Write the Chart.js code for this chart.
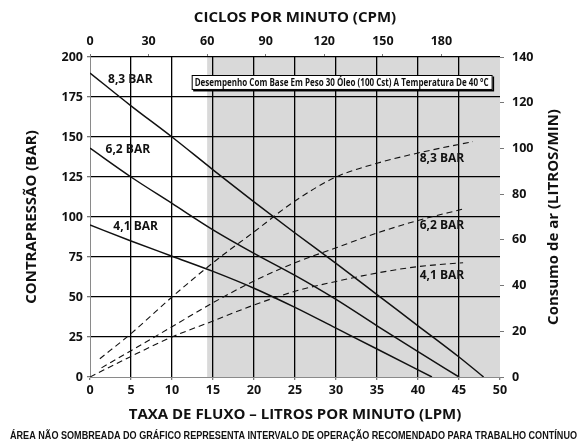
<!DOCTYPE html>
<html>
<head>
<meta charset="utf-8">
<script src="https://cdn.jsdelivr.net/npm/chart.js@4/dist/chart.umd.min.js"></script>
<style>
html,body{margin:0;padding:0;background:#fff}
</style>
</head>
<body>
<canvas id="myChart" width="582" height="447"></canvas>
<script>
// contrapressao (BAR) vs vazao (LPM)
const lpm83 = [0, 5, 10, 15, 20, 25, 30, 35, 40, 45, 48]
const bar83 = [190, 169.5, 150, 129.5, 109.5, 90, 71, 51.5, 32, 12.5, 0]
const lpm62 = [0, 5, 10, 15, 20, 25, 30, 35, 40, 45]
const bar62 = [143, 125, 108.5, 92, 77.3, 63.5, 48.5, 32, 15.8, 0]
const lpm41 = [0, 5, 10, 15, 20, 25, 30, 35, 41.7]
const bar41 = [95, 85, 75.5, 66, 55.5, 43.5, 30.5, 17.5, 0]

// consumo de ar (LITROS/MIN) vs vazao (LPM)
const airLpm83 = [1.2, 5, 10, 15, 20, 25, 30, 35, 40, 46.7]
const air83 = [8, 19, 35, 50, 63.5, 77, 87.5, 93.5, 98, 103]
const airLpm62 = [1.4, 5, 10, 15, 20, 25, 30, 35, 40, 45.5]
const air62 = [4, 11.5, 22, 32.5, 42, 50, 56.5, 63, 68.5, 73.5]
const airLpm41 = [0, 5, 10, 15, 20, 25, 30, 35, 40, 45.5]
const air41 = [0, 9, 17.5, 24.5, 31.5, 37.5, 41.8, 45.5, 48.3, 50]

const seriesNames = ["8,3 BAR", "6,2 BAR", "4,1 BAR"]

const lpmTicks = [0, 5, 10, 15, 20, 25, 30, 35, 40, 45, 50]
const cpmTicks = [0, 30, 60, 90, 120, 150, 180]
const barTicks = [0, 25, 50, 75, 100, 125, 150, 175, 200]
const airTicks = [0, 20, 40, 60, 80, 100, 120, 140]
const shadeFromCpm = 60

const noteText = "Desempenho Com Base Em Peso 30 Óleo (100 Cst) A Temperatura De 40 °C"
const footText = "ÁREA NÃO SOMBREADA DO GRÁFICO REPRESENTA INTERVALO DE OPERAÇÃO RECOMENDADO PARA TRABALHO CONTÍNUO"

const FONT = "'Open Sans', sans-serif"
const INK = '#111'

function pts(xs, ys) {
  return xs.map((v, i) => ({x: v, y: ys[i]}))
}
function setTicks(arr) {
  return scale => { scale.ticks = arr.map(v => ({value: v})) }
}

function solid(data) {
  return {data: data, yAxisID: 'y', borderColor: INK, borderWidth: 1.5,
    pointRadius: 0, cubicInterpolationMode: 'monotone', fill: false}
}
function dashed(data) {
  return {data: data, yAxisID: 'y2', borderColor: INK, borderWidth: 1.1, borderDash: [6, 4],
    pointRadius: 0, cubicInterpolationMode: 'monotone', fill: false}
}

/* fundo cinza a partir de 60 CPM */
const shade = {
  id: 'shade',
  beforeDraw(chart) {
    const {ctx, chartArea, scales} = chart
    const x0 = scales.x2.getPixelForValue(shadeFromCpm)
    ctx.save()
    ctx.fillStyle = '#d9d9d9'
    ctx.fillRect(x0, chartArea.top, chartArea.right - x0, chartArea.bottom - chartArea.top)
    ctx.restore()
  }
}

function fitText(ctx, txt, x, y, w) {
  const m = ctx.measureText(txt).width
  const s = w / m
  ctx.save()
  ctx.translate(x, y)
  ctx.scale(s, 1)
  ctx.fillText(txt, 0, 0)
  ctx.restore()
}

const extras = {
  id: 'extras',
  afterDatasetsDraw(chart) {
    const {ctx, scales} = chart
    const X = scales.x, Y = scales.y, Y2 = scales.y2
    ctx.save()
    ctx.fillStyle = INK
    ctx.font = 'bold 12px ' + FONT
    ctx.textBaseline = 'middle'
    ctx.textAlign = 'left'
    // rotulos esquerda (curvas de pressao)
    ctx.fillText(seriesNames[0], X.getPixelForValue(2.2), Y.getPixelForValue(185.6))
    ctx.fillText(seriesNames[1], X.getPixelForValue(1.9), Y.getPixelForValue(141.9))
    ctx.fillText(seriesNames[2], X.getPixelForValue(2.85), Y.getPixelForValue(94))
    // rotulos direita (consumo de ar)
    ctx.fillText(seriesNames[0], X.getPixelForValue(40.2), Y2.getPixelForValue(95.4))
    ctx.fillText(seriesNames[1], X.getPixelForValue(40.2), Y2.getPixelForValue(66.2))
    ctx.fillText(seriesNames[2], X.getPixelForValue(40.2), Y2.getPixelForValue(44.3))

    // caixa de nota
    const bx = X.getPixelForValue(12.4), bx2 = X.getPixelForValue(49.1)
    const by = Y.getPixelForValue(188.75), by2 = Y.getPixelForValue(179.4)
    ctx.fillStyle = '#000'
    ctx.fillRect(bx + 1.5, by + 1.5, bx2 - bx, by2 - by)
    ctx.fillStyle = '#fff'
    ctx.fillRect(bx, by, bx2 - bx, by2 - by)
    ctx.strokeStyle = '#000'
    ctx.lineWidth = 1
    ctx.strokeRect(bx + 0.5, by + 0.5, bx2 - bx - 1, by2 - by - 1)
    ctx.fillStyle = INK
    ctx.font = 'bold 10.5px ' + FONT
    fitText(ctx, noteText, bx + 3, (by + by2) / 2 + 0.5, bx2 - bx - 7)
    ctx.restore()
  },
  afterDraw(chart) {
    const {ctx, chartArea} = chart
    ctx.save()
    ctx.fillStyle = INK
    // titulo eixo direito, lido de baixo para cima
    ctx.font = 'bold 15px ' + FONT
    ctx.textAlign = 'center'
    ctx.textBaseline = 'middle'
    ctx.translate(554, (chartArea.top + chartArea.bottom) / 2)
    ctx.rotate(-Math.PI / 2)
    ctx.fillText('Consumo de ar (LITROS/MIN)', 0, 0)
    ctx.restore()

    ctx.save()
    ctx.fillStyle = INK
    ctx.font = 'bold 11px "Liberation Sans Narrow", "Liberation Sans", sans-serif'
    ctx.textAlign = 'left'
    ctx.textBaseline = 'middle'
    fitText(ctx, footText, 10, 436, 567)
    ctx.restore()
  }
}

const tickFont = {family: FONT, size: 12.5, weight: 'bold'}
const titleFont = {family: FONT, size: 15, weight: 'bold'}

new Chart("myChart", {
  type: 'line',
  data: {
    datasets: [
      solid(pts(lpm83, bar83)),
      solid(pts(lpm62, bar62)),
      solid(pts(lpm41, bar41)),
      dashed(pts(airLpm83, air83)),
      dashed(pts(airLpm62, air62)),
      dashed(pts(airLpm41, air41))
    ]
  },
  options: {
    responsive: false,
    animation: false,
    layout: {padding: 0},
    plugins: {legend: {display: false}, tooltip: {enabled: false}},
    scales: {
      x: {
        type: 'linear', position: 'bottom', min: 0, max: 50,
        afterBuildTicks: setTicks(lpmTicks),
        afterFit: s => { s.height = 70 },
        grid: {
          color: c => (c.tick && (c.tick.value === 0 || c.tick.value === 50)) ? 'rgba(0,0,0,0)' : '#000',
          lineWidth: 1.3, tickLength: 3, tickColor: '#777'
        },
        border: {display: true, color: '#8a8a8a', width: 1},
        ticks: {font: tickFont, color: INK, padding: 3, maxRotation: 0, autoSkip: false},
        title: {display: true, text: 'TAXA DE FLUXO – LITROS POR MINUTO (LPM)', font: titleFont, color: INK,
          padding: {top: 0, bottom: 23}}
      },
      x2: {
        type: 'linear', position: 'top', min: 0, max: 210,
        afterBuildTicks: setTicks(cpmTicks),
        afterFit: s => { s.height = 57 },
        grid: {drawOnChartArea: false, tickLength: 3, tickColor: '#777'},
        border: {display: false},
        ticks: {font: tickFont, color: INK, padding: 5, maxRotation: 0, autoSkip: false},
        title: {display: true, text: 'CICLOS POR MINUTO (CPM)', font: titleFont, color: INK,
          padding: {top: 9, bottom: 0}}
      },
      y: {
        type: 'linear', position: 'left', min: 0, max: 200,
        afterBuildTicks: setTicks(barTicks),
        afterFit: s => { s.width = 90 },
        grid: {
          color: c => (c.tick && c.tick.value === 0) ? 'rgba(0,0,0,0)' : '#000',
          lineWidth: 1.3, tickLength: 3, tickColor: '#777'
        },
        border: {display: true, color: '#8a8a8a', width: 1},
        ticks: {font: tickFont, color: INK, padding: 4, autoSkip: false},
        title: {display: true, text: 'CONTRAPRESSÃO (BAR)', font: titleFont, color: INK,
          padding: {top: 23, bottom: 0}}
      },
      y2: {
        type: 'linear', position: 'right', min: 0, max: 140,
        afterBuildTicks: setTicks(airTicks),
        afterFit: s => { s.width = 82 },
        grid: {drawOnChartArea: false, tickLength: 4, tickColor: '#777'},
        border: {display: false},
        ticks: {font: tickFont, color: INK, padding: 8, autoSkip: false}
      }
    }
  },
  plugins: [shade, extras]
});
</script>
</body>
</html>
